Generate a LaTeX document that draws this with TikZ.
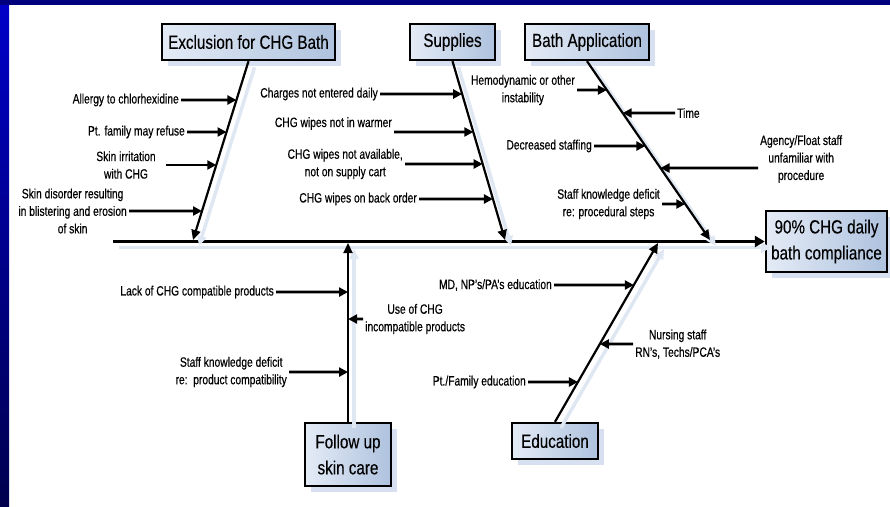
\documentclass[tikz,border=0pt]{standalone}
\usepackage{fontspec}
\setmainfont{Liberation Sans}[FakeStretch=0.76, FakeBold=0.5]
\newfontfamily\catfont{Liberation Sans}[FakeStretch=0.8, FakeBold=0.3]
\usepackage{xcolor}
\usepackage{tikz}
\usetikzlibrary{arrows.meta, shadows, calc}

\definecolor{frameblue}{HTML}{0000C8}
\definecolor{framenavy}{HTML}{00004E}
\definecolor{boxlight}{HTML}{E4EBF6}
\definecolor{boxdark}{HTML}{AEC2DE}
\definecolor{shadowblue}{HTML}{D6E0F0}
\definecolor{boneshadow}{HTML}{DFE7F3}

\begin{document}
\begin{tikzpicture}[
  x=1pt, y=-1pt,
  cat/.style={draw, line width=2.4pt, font=\catfont\fontsize{19}{26}\selectfont,
              align=center, inner sep=2pt, left color=boxlight, right color=boxdark,
              drop shadow={shadow xshift=6pt, shadow yshift=-6pt, fill=shadowblue, opacity=1}},
  cause/.style={font=\fontsize{13.5}{17.5}\selectfont, align=center, inner sep=2pt},
  shadowed/.style={preaction={draw=boneshadow, line width=3.5pt,
                   transform canvas={shift={(6pt,-6pt)}}}},
  bone/.style={shadowed, line width=2.2pt, -{Triangle[length=10pt,width=9pt]}},
  spineline/.style={shadowed, line width=2.8pt, -{Triangle[length=10pt,width=11pt]}},
  ar/.style={line width=2.8pt, -{Triangle[length=9pt,width=9pt]}}
]
\useasboundingbox (0,0) rectangle (890,506);
\fill[framenavy!60!frameblue] (0,0) rectangle (890,5);
\shade[top color=frameblue, bottom color=framenavy] (0,5) rectangle (9,506);

\node[cat, minimum width=173pt, minimum height=36pt] (excl)   at (248.5,42)  {Exclusion for CHG Bath};
\node[cat, minimum width=85pt,  minimum height=36pt] (supp)   at (452.5,42)  {Supplies};
\node[cat, minimum width=124pt, minimum height=36pt] (bath)   at (587,42)    {Bath Application};
\node[cat, minimum width=86pt,  minimum height=63pt] (follow) at (348,454.5) {Follow up\\skin care};
\node[cat, minimum width=86pt,  minimum height=36pt] (educ)   at (555,441)   {Education};
\node[cat, minimum width=121pt, minimum height=61pt] (goal)   at (826.5,241.5) {90\% CHG daily\\bath compliance};

\coordinate (spine)     at (113,241.5);
\coordinate (exclEnd)   at (193,240);
\coordinate (suppEnd)   at (505,240);
\coordinate (bathEnd)   at (710,240);
\coordinate (followEnd) at (348,243);
\coordinate (educEnd)   at (658,243);

\draw[spineline] (spine) -- (goal.west);
\draw[bone] (excl.south) -- (exclEnd);
\draw[bone] (supp.south) -- (suppEnd);
\draw[bone] (bath.south) -- (bathEnd);
\draw[bone] (follow.north) -- (followEnd);
\draw[bone] (educ.north) -- (educEnd);

\node[cause, anchor=east] (allergy)  at (181,100) {Allergy to chlorhexidine};
\node[cause, anchor=east] (refuse)   at (187,132) {Pt. family may refuse};
\node[cause]              (irrit)    at (126,165) {Skin irritation\\with CHG};
\node[cause, anchor=east] (disorder) at (129,211) {Skin disorder resulting\\in blistering and erosion\\of skin};
\draw[ar] (allergy.east) -- (intersection of excl.south--exclEnd and allergy.east--allergy.west);
\draw[ar] (refuse.east) -- (intersection of excl.south--exclEnd and refuse.east--refuse.west);
\draw[ar] ([xshift=8pt]irrit.east) -- (intersection of excl.south--exclEnd and irrit.east--irrit.west);
\draw[ar] (disorder.east) -- (intersection of excl.south--exclEnd and disorder.east--disorder.west);

\node[cause, anchor=east]       (charges)   at (380,94)  {Charges not entered daily};
\node[cause, anchor=south east] (warmer)    at (394,132) {CHG wipes not in warmer};
\node[cause, anchor=east]       (notavail)  at (405,164) {CHG wipes not available,\\not on supply cart};
\node[cause, anchor=east]       (backorder) at (419,199) {CHG wipes on back order};
\draw[ar] (charges.east) -- (intersection of supp.south--suppEnd and charges.east--charges.west);
\draw[ar] (warmer.south east) -- (intersection of supp.south--suppEnd and warmer.south east--warmer.south west);
\draw[ar] (notavail.east) -- (intersection of supp.south--suppEnd and notavail.east--notavail.west);
\draw[ar] (backorder.east) -- (intersection of supp.south--suppEnd and backorder.east--backorder.west);

\node[cause, anchor=east] (hemo)       at (577,90)  {Hemodynamic or other\\instability};
\node[cause, anchor=west] (time)       at (675,113) {Time};
\node[cause, anchor=east] (staffing)   at (594,146) {Decreased staffing};
\node[cause, anchor=west] (agency)     at (758,159) {Agency/Float staff\\unfamiliar with\\procedure};
\node[cause, anchor=east] (procedural) at (662,204) {Staff knowledge deficit\\re: procedural steps};
\coordinate (agencyA) at ([yshift=-9pt]agency.west);
\coordinate (agencyB) at ([yshift=-9pt]agency.east);
\draw[ar] (hemo.east) -- (intersection of bath.south--bathEnd and hemo.east--hemo.west);
\draw[ar] (time.west) -- (intersection of bath.south--bathEnd and time.east--time.west);
\draw[ar] (staffing.east) -- (intersection of bath.south--bathEnd and staffing.east--staffing.west);
\draw[ar] (agencyA) -- (intersection of bath.south--bathEnd and agencyA--agencyB);
\draw[ar] (procedural.east) -- (intersection of bath.south--bathEnd and procedural.east--procedural.west);

\node[cause, anchor=east] (lack)     at (276,292) {Lack of CHG compatible products};
\node[cause, anchor=west] (incompat) at (363,319) {Use of CHG\\incompatible products};
\node[cause, anchor=east] (compat)   at (289,372) {Staff knowledge deficit\\re:\ \ product compatibility};
\draw[ar] (lack.east) -- (intersection of follow.north--followEnd and lack.east--lack.west);
\draw[ar] (incompat.west) -- (intersection of follow.north--followEnd and incompat.east--incompat.west);
\draw[ar] (compat.east) -- (intersection of follow.north--followEnd and compat.east--compat.west);

\node[cause, anchor=east] (mdedu)   at (554,285) {MD, NP’s/PA’s education};
\node[cause, anchor=west] (nursing) at (633,344) {Nursing staff\\RN’s, Techs/PCA’s};
\node[cause, anchor=east] (famedu)  at (528,382) {Pt./Family education};
\draw[ar] (mdedu.east) -- (intersection of educ.north--educEnd and mdedu.east--mdedu.west);
\draw[ar] (nursing.west) -- (intersection of educ.north--educEnd and nursing.east--nursing.west);
\draw[ar] (famedu.east) -- (intersection of educ.north--educEnd and famedu.east--famedu.west);
\end{tikzpicture}
\end{document}
